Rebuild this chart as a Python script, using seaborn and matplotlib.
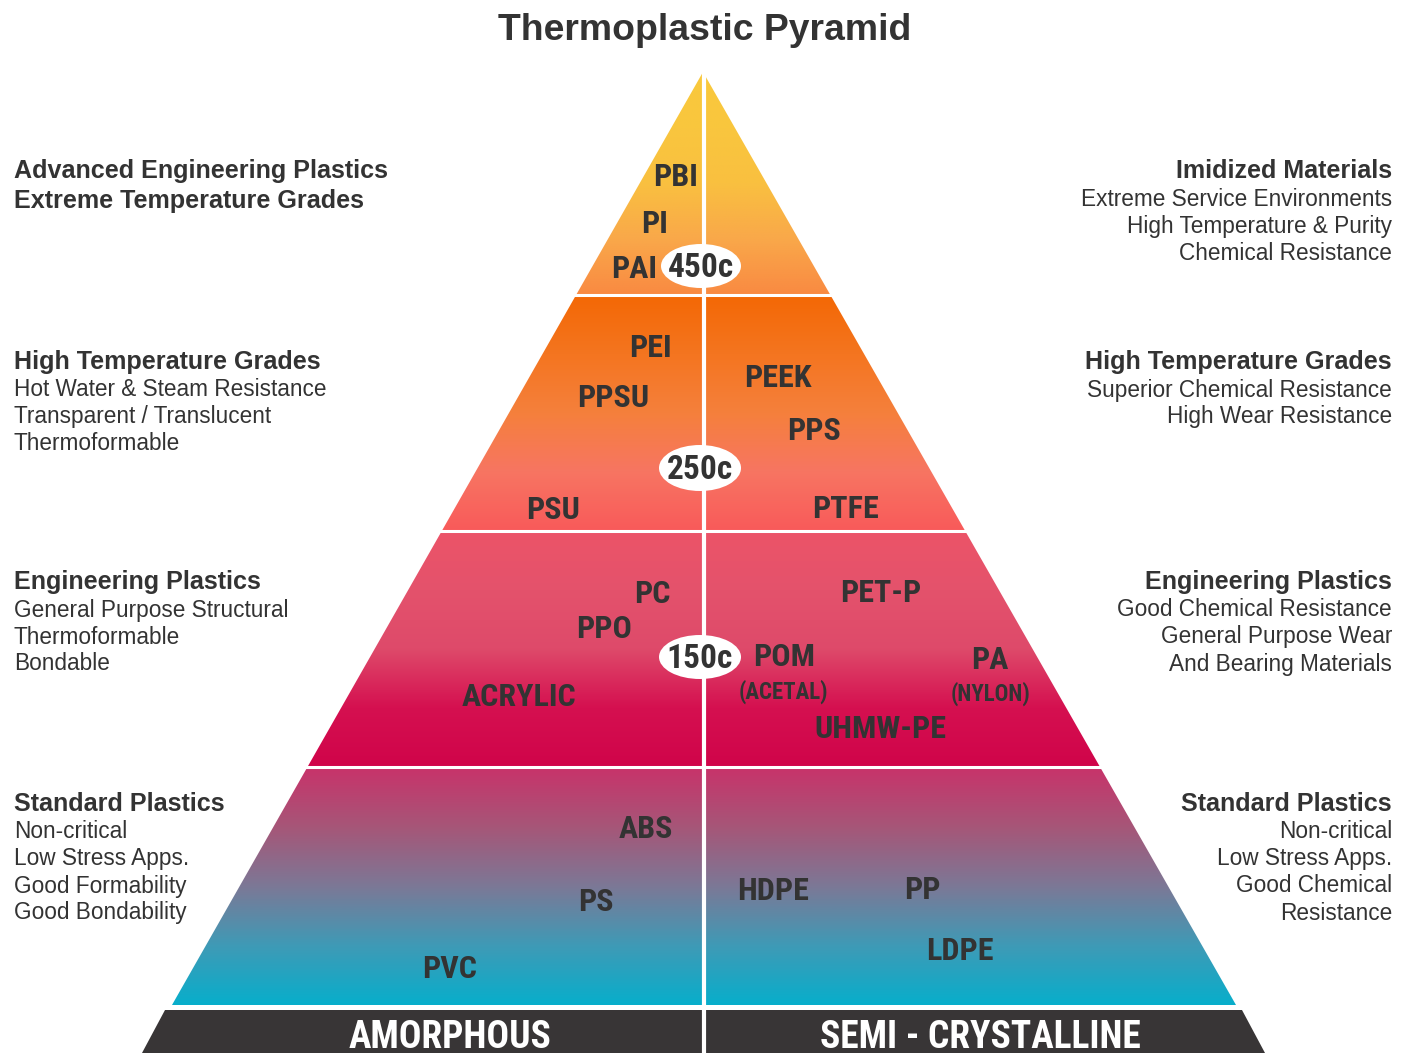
import numpy as np
import matplotlib
matplotlib.use("Agg")
import matplotlib.pyplot as plt
import seaborn as sns
from matplotlib.patches import Polygon, Ellipse
from matplotlib import font_manager
from matplotlib.font_manager import FontProperties

sns.set_theme(style="white")
plt.rcParams["font.family"] = ["Liberation Sans", "DejaVu Sans"]

# pick a condensed bold face if one is installed
_fl = font_manager.fontManager.ttflist
COND_FILE = None
_prefs = ["Liberation Sans Narrow", "Roboto Condensed", "DejaVu Sans Condensed", "Open Sans Condensed"]
for pref in _prefs:
    for f in _fl:
        if f.name == pref and str(f.weight) in ("bold", "700") and "Italic" not in f.fname and "Oblique" not in f.fname:
            COND_FILE = f.fname
            break
    if COND_FILE:
        break
if COND_FILE is None:
    for f in _fl:
        low = f.fname.lower()
        if ("condensed" in low or "narrow" in low) and "bold" in low and "italic" not in low and "oblique" not in low:
            COND_FILE = f.fname
            break


def cond_fp(size):
    if COND_FILE:
        return FontProperties(fname=COND_FILE, size=size)
    return FontProperties(family="DejaVu Sans", weight="bold", size=size * 0.8)


# ---------------- data ----------------
title = "Thermoplastic Pyramid"
base_labels = ["AMORPHOUS", "SEMI - CRYSTALLINE"]
temperatures = ["450c", "250c", "150c"]

amorphous = ["PBI", "PI", "PAI", "PEI", "PPSU", "PSU", "PC", "PPO", "ACRYLIC", "ABS", "PS", "PVC"]
semi_crystalline = ["PEEK", "PPS", "PTFE", "PET-P", "POM", "(ACETAL)", "PA", "(NYLON)",
                    "UHMW-PE", "HDPE", "PP", "LDPE"]

left_heads = [["Advanced Engineering Plastics", "Extreme Temperature Grades"],
              ["High Temperature Grades"], ["Engineering Plastics"], ["Standard Plastics"]]
left_lines = [[],
              ["Hot Water & Steam Resistance", "Transparent / Translucent", "Thermoformable"],
              ["General Purpose Structural", "Thermoformable", "Bondable"],
              ["Non-critical", "Low Stress Apps.", "Good Formability", "Good Bondability"]]
right_heads = [["Imidized Materials"], ["High Temperature Grades"],
               ["Engineering Plastics"], ["Standard Plastics"]]
right_lines = [["Extreme Service Environments", "High Temperature & Purity", "Chemical Resistance"],
               ["Superior Chemical Resistance", "High Wear Resistance"],
               ["Good Chemical Resistance", "General Purpose Wear", "And Bearing Materials"],
               ["Non-critical", "Low Stress Apps.", "Good Chemical", "Resistance"]]

# ---------------- layout / style ----------------
W, H = 1407, 1053
apex = (703, 72)
base_y, base_l, base_r = 1005, 172, 1236
tier_y = [72, 295, 531, 767, 1005]
tier_colors = [
    ["#F9C93C", "#F9C63E", "#F9C040", "#F9A84A", "#F98A42"],
    ["#F36805", "#F47520", "#F5803C", "#F77562", "#F95A5A"],
    ["#EC5468", "#E4526C", "#DE4A6A", "#D51050", "#D0044A"],
    ["#C8336A", "#A65678", "#7C7896", "#3F9AB6", "#08AECB"],
]
amor_pos = [(676, 175), (655, 222), (634, 267), (650, 346), (613, 396), (553, 508),
            (652, 592), (604, 627), (519, 695), (646, 827), (596, 900), (450, 967)]
semi_pos = [(778, 376), (814, 429), (845, 507), (881, 591), (784, 655), (783, 690),
            (990, 658), (990, 692), (880, 727), (773, 889), (922, 888), (960, 949)]
small_labels = {"(ACETAL)", "(NYLON)"}
temp_pos = [(701, 266), (700, 468), (700, 657)]
temp_size = [(80, 44), (82, 46), (82, 44)]
TXT = "#333333"


def xl(y):
    return apex[0] + (base_l - apex[0]) * (y - apex[1]) / (base_y - apex[1])


def xr(y):
    return apex[0] + (base_r - apex[0]) * (y - apex[1]) / (base_y - apex[1])


fig = plt.figure(figsize=(W / 100, H / 100), dpi=100)
ax = fig.add_axes([0, 0, 1, 1])
ax.set_xlim(0, W)
ax.set_ylim(H, 0)
ax.axis("off")

grad = np.linspace(0, 1, 400).reshape(-1, 1)
for i in range(4):
    y0, y1 = tier_y[i], tier_y[i + 1]
    pts = [(xl(y0), y0), (xr(y0), y0), (xr(y1), y1), (xl(y1), y1)]
    poly = Polygon(pts, closed=True, facecolor="none", edgecolor="none")
    ax.add_patch(poly)
    cmap = sns.blend_palette(tier_colors[i], as_cmap=True)
    im = ax.imshow(grad, cmap=cmap, aspect="auto", origin="upper",
                   extent=(xl(y1), xr(y1), y1, y0), interpolation="bilinear", zorder=1)
    im.set_clip_path(poly)

# tier gaps
for y in tier_y[1:4]:
    ax.plot([0, W], [y, y], color="white", lw=2.2, zorder=2, solid_capstyle="butt")
# bottom band
band = Polygon([(165, 1010), (1242, 1010), (1265, 1053), (142, 1053)], closed=True,
               facecolor="#383536", edgecolor="none", zorder=2)
ax.add_patch(band)
# centre line
ax.plot([703.5, 703.5], [60, H], color="white", lw=3.0, zorder=3, solid_capstyle="butt")

MAT = 23
# temperatures
for t, (x, y), (w, h) in zip(temperatures, temp_pos, temp_size):
    ax.add_patch(Ellipse((x, y), w, h, facecolor="white", edgecolor="none", zorder=4))
    ax.text(x, y + 2, t, ha="center", va="center", fontproperties=cond_fp(24),
            color=TXT, zorder=5)

for names, poss in ((amorphous, amor_pos), (semi_crystalline, semi_pos)):
    for n, (x, y) in zip(names, poss):
        fs = 16.5 if n in small_labels else MAT
        ax.text(x, y + 2, n, ha="center", va="center", fontproperties=cond_fp(fs),
                color=TXT, zorder=5)

# base labels
ax.text(450, 1037, base_labels[0], ha="center", va="center", fontproperties=cond_fp(27),
        color="white", zorder=5)
ax.text(980, 1037, base_labels[1], ha="center", va="center", fontproperties=cond_fp(27),
        color="white", zorder=5)

# title
ax.text(705, 30, title, ha="center", va="center", fontsize=26.9, fontweight="bold", color=TXT)

# side texts
block_y = [171, 362, 582, 804]
for side, heads, lines in (("left", left_heads, left_lines), ("right", right_heads, right_lines)):
    x = 14 if side == "left" else 1392
    ha = "left" if side == "left" else "right"
    for by, hs, ls in zip(block_y, heads, lines):
        y = by
        for k, h in enumerate(hs):
            ax.text(x, y, h, ha=ha, va="center", fontsize=18.1, fontweight="bold", color=TXT)
            y += 30
        y = by + 28 if len(hs) == 1 else y
        for l in ls:
            ax.text(x, y, l, ha=ha, va="center", fontsize=16.3, color=TXT)
            y += 27

fig.savefig("out.png", dpi=100, facecolor="white")
